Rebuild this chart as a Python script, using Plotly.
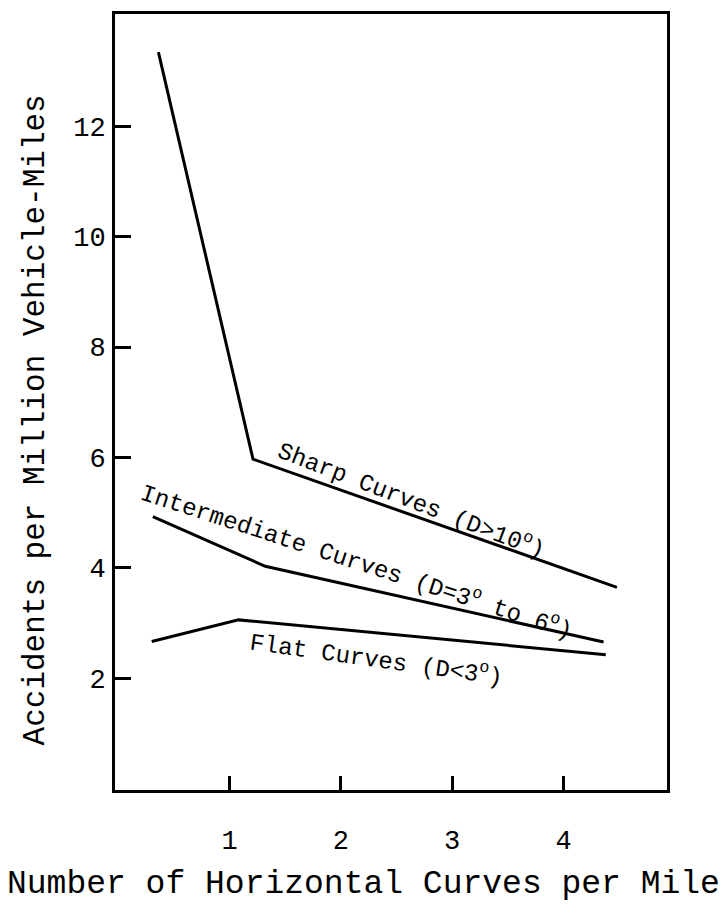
import plotly.graph_objects as go

# Data
sharp_x = [0.36, 1.21, 4.48]
sharp_y = [13.34, 5.97, 3.65]

inter_x = [0.31, 1.32, 4.36]
inter_y = [4.93, 4.03, 2.66]

flat_x = [0.30, 1.08, 4.38]
flat_y = [2.67, 3.06, 2.43]

x_ticks = [1, 2, 3, 4]
y_ticks = [2, 4, 6, 8, 10, 12]

x_title = "Number of Horizontal Curves per Mile"
y_title = "Accidents per Million Vehicle-Miles"

FONT = "Liberation Mono, Courier New, monospace"

fig = go.Figure()
for xs, ys in [(sharp_x, sharp_y), (inter_x, inter_y), (flat_x, flat_y)]:
    fig.add_trace(go.Scatter(x=xs, y=ys, mode="lines",
                             line=dict(color="black", width=3),
                             showlegend=False, hoverinfo="skip"))

labels = [
    dict(text="Sharp Curves (D>10<sup>o</sup>)", x=2.64, y=5.24, angle=21, size=24),
    dict(text="Intermediate Curves (D=3<sup>o</sup> to 6<sup>o</sup>)", x=2.14, y=4.14, angle=18, size=24),
    dict(text="Flat Curves (D<3<sup>o</sup>)", x=2.32, y=2.36, angle=8, size=24),
]
for lb in labels:
    fig.add_annotation(x=lb["x"], y=lb["y"], text=lb["text"], textangle=lb["angle"],
                       showarrow=False, xref="x", yref="y",
                       font=dict(family=FONT, size=lb["size"], color="black"))

fig.add_annotation(text=x_title, xref="paper", yref="paper", x=0.451, y=-0.122,
                   showarrow=False, xanchor="center", yanchor="middle",
                   font=dict(family=FONT, size=33, color="black"))
fig.add_annotation(text=y_title, xref="paper", yref="paper", x=-0.145, y=0.4775,
                   showarrow=False, xanchor="center", yanchor="middle", textangle=-90,
                   font=dict(family=FONT, size=31, color="black"))

fig.update_layout(
    width=727, height=914,
    margin=dict(l=115, r=60, t=11, b=124),
    paper_bgcolor="white", plot_bgcolor="white",
    font=dict(family=FONT, color="black"),
)
fig.update_xaxes(
    range=[-0.03, 4.93], tickvals=x_ticks, ticktext=[str(v) for v in x_ticks],
    ticks="inside", ticklen=14, tickwidth=2.5, tickcolor="black",
    showline=True, linewidth=3, linecolor="black", mirror=True,
    showgrid=False, zeroline=False,
    tickfont=dict(family=FONT, size=27, color="black"),
    ticklabelstandoff=24,
)
fig.update_yaxes(
    range=[-0.02, 14.03], tickvals=y_ticks, ticktext=[str(v) for v in y_ticks],
    ticks="inside", ticklen=16, tickwidth=2.5, tickcolor="black",
    showline=True, linewidth=3, linecolor="black", mirror=True,
    showgrid=False, zeroline=False,
    tickfont=dict(family=FONT, size=27, color="black"),
    ticklabelstandoff=1,
)

fig.write_html("out.html")
